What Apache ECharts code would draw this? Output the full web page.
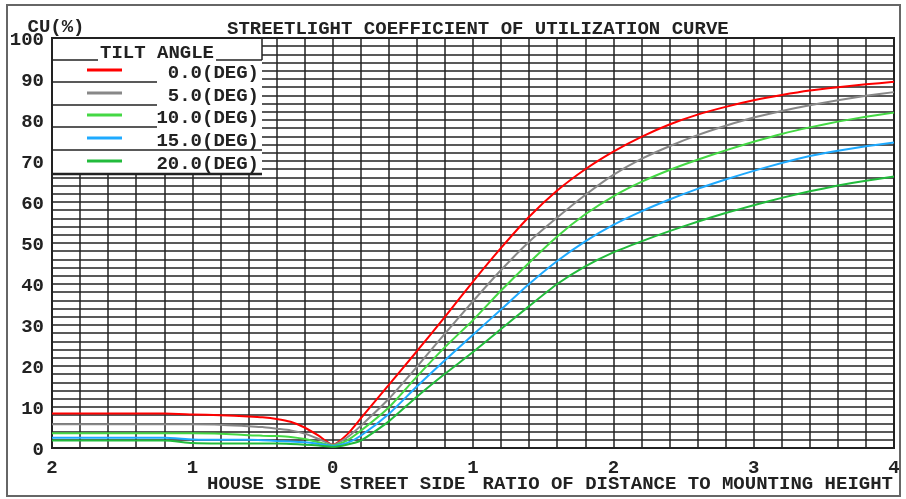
<!DOCTYPE html>
<html>
<head>
<meta charset="utf-8">
<title>CU curve</title>
<script src="https://cdn.jsdelivr.net/npm/echarts@6/dist/echarts.min.js"></script>
<style>
  html, body { margin: 0; padding: 0; background: #fff; }
  #cu { width: 906px; height: 499px; }
</style>
</head>
<body>
<div id="cu"></div>
<script>
// distance / mounting height (house side negative, street side positive)
var ratio = [-2, -1.8, -1.6, -1.4, -1.2, -1, -0.8, -0.6, -0.5, -0.4, -0.3, -0.2, -0.1, 0,
    0.1, 0.2, 0.4, 0.6, 0.8, 1, 1.2, 1.4, 1.6, 1.8, 2, 2.2, 2.4, 2.6, 2.8, 3, 3.2, 3.4, 3.6, 3.8, 4];
// CU (%) per tilt angle
var cu0 = [8.4, 8.4, 8.4, 8.4, 8.4, 8.2, 8.0, 7.7, 7.5, 7.1, 6.4, 5.0, 3.0, 0.8,
    3.2, 7.2, 15.4, 23.6, 32.0, 40.6, 48.8, 56.4, 62.8, 68.0, 72.3, 75.9, 78.9, 81.3, 83.2, 84.8, 86.1, 87.2, 88.0, 88.7, 89.3];
var cu5 = [5.8, 5.8, 5.8, 5.8, 5.8, 5.8, 5.7, 5.3, 5.1, 4.7, 4.3, 3.5, 2.2, 0.8,
    2.5, 5.4, 12.0, 19.8, 27.9, 35.8, 43.4, 50.3, 56.2, 61.7, 66.6, 70.5, 73.6, 76.3, 78.6, 80.6, 82.2, 83.6, 84.8, 85.9, 86.8];
var cu10 = [3.6, 3.6, 3.6, 3.6, 3.6, 3.6, 3.5, 3.1, 3.0, 2.9, 2.7, 2.2, 1.4, 0.6,
    1.8, 4.2, 9.9, 17.4, 24.6, 31.2, 38.4, 45.2, 51.6, 57.0, 61.4, 64.9, 67.8, 70.3, 72.6, 74.7, 76.6, 78.2, 79.6, 80.8, 81.8];
var cu15 = [2.5, 2.5, 2.5, 2.5, 2.5, 2.1, 2.0, 2.0, 1.9, 1.7, 1.6, 1.4, 1.0, 0.5,
    1.2, 3.0, 8.3, 15.0, 21.4, 27.6, 33.8, 40.0, 45.6, 50.4, 54.4, 57.7, 60.6, 63.2, 65.5, 67.6, 69.5, 71.2, 72.5, 73.6, 74.5];
var cu20 = [1.8, 1.8, 1.8, 1.8, 1.8, 1.2, 1.1, 1.1, 1.1, 1.1, 1.0, 0.8, 0.6, 0.3,
    0.8, 1.8, 6.5, 12.5, 18.1, 23.4, 29.0, 34.6, 40.0, 44.3, 47.7, 50.4, 52.9, 55.2, 57.3, 59.2, 61.0, 62.6, 64.0, 65.2, 66.2];
var tiltNames = ["0.0(DEG)", "5.0(DEG)", "10.0(DEG)", "15.0(DEG)", "20.0(DEG)"];
var tiltColors = ["#ff0000", "#888888", "#44d844", "#1eaaff", "#22bb3c"];

var FONT = "Liberation Mono";
var FSIZE = 19;
var txtColor = "#222";
var fontStr = "bold " + FSIZE + "px '" + FONT + "'";

function pairs(vals){
    var out = [];
    for (var i = 0; i < ratio.length; i++) {
        out.push([ratio[i], vals[i]]);
    }
    return out;
}

var allCu = [cu0, cu5, cu10, cu15, cu20];
var series = [];
for (var s = 0; s < allCu.length; s++) {
    series.push({
        name: tiltNames[s],
        type: "line",
        symbol: "none",
        smooth: 0.2,
        z: 5,
        lineStyle: { width: 2, color: tiltColors[s] },
        data: pairs(allCu[s])
    });
}

// legend box drawn by hand (lines + right aligned text)
var L = 52, R = 262, T = 38;
var graphic = [
    { type: "rect", z: 50, shape: { x: 7, y: 5, width: 893, height: 491 },
      style: { fill: "none", stroke: "#666", lineWidth: 2 } },
    { type: "rect", z: 50, shape: { x: L + 1, y: T + 1, width: R - L - 1, height: 136 },
      style: { fill: "#fff" } },
    { type: "line", z: 51, shape: { x1: R, y1: T, x2: R, y2: 60 }, style: { stroke: "#222", lineWidth: 1.5 } },
    { type: "line", z: 51, shape: { x1: L, y1: 60, x2: R, y2: 60 }, style: { stroke: "#222", lineWidth: 1.5 } },
    { type: "text", z: 52, style: { x: 157, y: 53, text: "TILT ANGLE", fill: txtColor,
      font: fontStr, align: "center", verticalAlign: "middle",
      backgroundColor: "#fff", padding: [0, 2] } },
    { type: "line", z: 51, shape: { x1: L, y1: 174, x2: R, y2: 174 }, style: { stroke: "#222", lineWidth: 2.5 } },
    // y axis unit
    { type: "text", z: 52, style: { x: 56, y: 27, text: "CU(%)", fill: txtColor,
      font: fontStr, align: "center", verticalAlign: "middle" } }
];
var rowY = [73, 96, 118, 141, 164];
var sepY = [82, 105, 127, 150];
for (var k = 0; k < tiltNames.length; k++) {
    if (k < sepY.length) {
        graphic.push({ type: "line", z: 51, shape: { x1: L, y1: sepY[k], x2: k == 3 ? R : 157, y2: sepY[k] },
            style: { stroke: "#222", lineWidth: 1.5 } });
    }
    graphic.push({ type: "line", z: 52, shape: { x1: 87, y1: rowY[k] - 3, x2: 122, y2: rowY[k] - 3 },
        style: { stroke: tiltColors[k], lineWidth: 3 } });
    graphic.push({ type: "text", z: 52, style: { x: 259, y: rowY[k], text: tiltNames[k], fill: txtColor,
        font: fontStr, align: "right", verticalAlign: "middle" } });
}
// bottom captions
graphic.push({ type: "text", z: 52, style: { x: 207, y: 484, text: "HOUSE SIDE", fill: txtColor,
    font: fontStr, verticalAlign: "middle" } });
graphic.push({ type: "text", z: 52, style: { x: 340, y: 484, text: "STREET SIDE", fill: txtColor,
    font: fontStr, verticalAlign: "middle" } });
graphic.push({ type: "text", z: 52, style: { x: 893, y: 484, text: "RATIO OF DISTANCE TO MOUNTING HEIGHT", fill: txtColor,
    font: fontStr, align: "right", verticalAlign: "middle" } });

var chart = echarts.init(document.getElementById("cu"));
var option = {
    animation: false,
    backgroundColor: "#fff",
    textStyle: { fontFamily: FONT, fontWeight: "bold", color: txtColor },
    title: {
        text: "STREETLIGHT COEFFICIENT OF UTILIZATION CURVE",
        left: 222, top: 15,
        textStyle: { fontFamily: FONT, fontWeight: "bold", fontSize: FSIZE, color: txtColor }
    },
    grid: {
        left: 52, right: 12, top: 38, bottom: 51,
        show: true, borderColor: "#222", borderWidth: 2, backgroundColor: "#fff"
    },
    xAxis: {
        type: "value",
        min: -2, max: 4, interval: 0.2,
        axisLine: { show: true, lineStyle: { color: "#222", width: 2 } },
        axisTick: { show: false },
        splitLine: { show: true, lineStyle: { color: "#222", width: 1.5 } },
        axisLabel: {
            margin: 11, fontSize: FSIZE, fontFamily: FONT, fontWeight: "bold", color: txtColor,
            showMinLabel: true, showMaxLabel: true,
            formatter: function (v) {
                var r = Math.round(v * 10) / 10;
                return r % 1 === 0 ? String(Math.abs(r)) : "";
            }
        }
    },
    yAxis: {
        type: "value",
        min: 0, max: 100, interval: 2,
        axisLine: { show: true, onZero: false, lineStyle: { color: "#222", width: 2 } },
        axisTick: { show: false },
        splitLine: { show: true, lineStyle: { color: "#222", width: 1.5 } },
        axisLabel: {
            margin: 8, fontSize: FSIZE, fontFamily: FONT, fontWeight: "bold", color: txtColor,
            verticalAlign: "top", padding: [-7, 0, 0, 0],
            formatter: function (v) {
                return v % 10 === 0 ? String(v) : "";
            }
        }
    },
    graphic: graphic,
    series: series
};
chart.setOption(option);
</script>
</body>
</html>
